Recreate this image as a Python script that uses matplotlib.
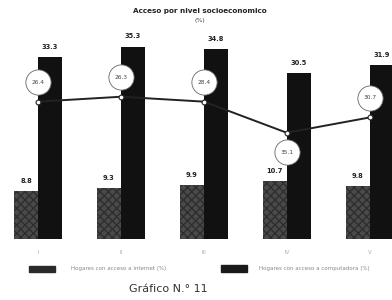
import matplotlib
matplotlib.use("Agg")
import matplotlib.pyplot as plt
import numpy as np

categories = ["I", "II", "III", "IV", "V"]
short_vals = [8.8, 9.3, 9.9, 10.7, 9.8]
tall_vals = [33.3, 35.3, 34.8, 30.5, 31.9]
line_vals = [25.2, 26.1, 25.2, 19.5, 22.3]
line_labels = ["26.4", "26.3", "28.4", "35.1", "30.7"]
legend_labels = ["Hogares con acceso a internet (%)", "Hogares con acceso a computadora (%)"]
title = "Acceso por nivel socioeconomico"
subtitle = "(%)"
caption = "Gráfico N.° 11"

fig = plt.figure(figsize=(3.92, 3.0), dpi=100)
ax = fig.add_axes([0, 0.203, 1, 0.68])
x = np.arange(len(categories))
w = 0.29
b1 = ax.bar(x - w / 2, short_vals, width=w, color="#4a4a4a", hatch="xxxx",
            edgecolor="#2e2e2e", linewidth=0)
b2 = ax.bar(x + w / 2, tall_vals, width=w, color="#111111", linewidth=0)
for xi, v in zip(x, short_vals):
    ax.text(xi - w / 2, v + 1.3, f"{v}", ha="center", va="bottom", fontsize=4.8,
            fontweight="bold", color="#222222")
for xi, v in zip(x, tall_vals):
    ax.text(xi + w / 2, v + 1.3, f"{v}", ha="center", va="bottom", fontsize=4.8,
            fontweight="bold", color="#222222")
ax.plot(x, line_vals, color="#222222", lw=1.4, marker="o", ms=3.5,
        mfc="white", mec="#222222", mew=0.8, zorder=4)
for i, (xi, v, lab) in enumerate(zip(x, line_vals, line_labels)):
    dy = -3.6 if i == 3 else 3.6
    ax.scatter([xi], [v + dy], s=330, color="white", edgecolor="#666666",
               linewidth=0.6, zorder=5)
    ax.text(xi, v + dy, lab, ha="center", va="center", fontsize=4.2,
            color="#444444", zorder=6)
ax.set_xlim(-0.46, 4.27)
ax.set_ylim(0, 37.4)
ax.set_xticks(x)
ax.set_xticklabels(categories, fontsize=4, color="#aaaaaa")
ax.tick_params(length=0, pad=8)
ax.set_yticks([])
for s in ax.spines.values():
    s.set_visible(False)

fig.text(0.51, 0.975, title, ha="center", va="top", fontsize=5.2, fontweight="bold",
         color="#222222")
fig.text(0.51, 0.94, subtitle, ha="center", va="top", fontsize=4.5, color="#444444")

# legend
fig.patches.append(matplotlib.patches.Rectangle((0.075, 0.095), 0.065, 0.018,
                   transform=fig.transFigure, color="#2a2a2a"))
fig.text(0.18, 0.104, legend_labels[0], ha="left", va="center", fontsize=4,
         color="#888888")
fig.patches.append(matplotlib.patches.Rectangle((0.565, 0.095), 0.065, 0.022,
                   transform=fig.transFigure, color="#1a1a1a"))
fig.text(0.66, 0.104, legend_labels[1], ha="left", va="center", fontsize=4,
         color="#888888")
fig.text(0.43, 0.035, caption, ha="center", va="center", fontsize=8, color="#333333")

fig.savefig("out.png", dpi=100, facecolor="white")
